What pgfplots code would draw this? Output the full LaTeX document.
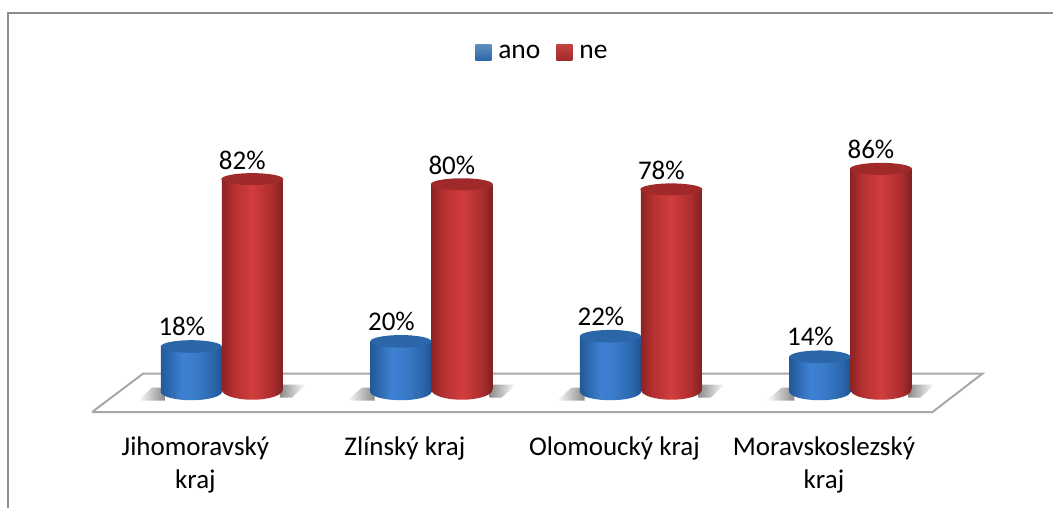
\documentclass[border=0pt]{standalone}
\usepackage{fontspec}
\setmainfont{Carlito}
\usepackage{pgfplots}
\pgfplotsset{compat=1.18}
\definecolor{framegray}{HTML}{8C8C8C}
\definecolor{floorgray}{HTML}{A8A8A8}
\definecolor{bluecap}{HTML}{2A66A8}
\definecolor{redcap}{HTML}{A02A2A}
\definecolor{shadowgray}{HTML}{8A8A8A}
\pgfdeclarehorizontalshading{bluecyl}{100bp}{
  rgb(0bp)=(.13,.35,.60);rgb(25bp)=(.13,.35,.60);rgb(42bp)=(.24,.50,.82);rgb(52bp)=(.23,.49,.80);rgb(68bp)=(.17,.40,.68);rgb(75bp)=(.12,.33,.58);rgb(100bp)=(.12,.33,.58)}
\pgfdeclarehorizontalshading{redcyl}{100bp}{
  rgb(0bp)=(.55,.14,.14);rgb(25bp)=(.55,.14,.14);rgb(35bp)=(.72,.19,.19);rgb(50bp)=(.82,.24,.24);rgb(66bp)=(.68,.18,.18);rgb(75bp)=(.50,.13,.13);rgb(100bp)=(.50,.13,.13)}
\pgfdeclareplotmark{bluebase}{\path[draw=none,shading=bluecyl,rotate=4] (0pt,0pt) ellipse (30.5pt and 8.5pt);}
\pgfdeclareplotmark{redbase}{\path[draw=none,shading=redcyl,rotate=5] (0pt,0pt) ellipse (30.5pt and 10pt);}
\pgfdeclareplotmark{bluetop}{\path[draw=none,fill=bluecap,rotate=6] (0pt,0pt) ellipse (30.5pt and 6.3pt);}
\pgfdeclareplotmark{redtop}{\path[draw=none,fill=redcap,rotate=6] (0pt,0pt) ellipse (31pt and 6pt);}
\pgfplotstableread{
x ano ne zero
0 18 82 0
1 20 80 0
2 22 78 0
3 14 86 0
}\data
\pgfplotsset{
  bluebar/.style={forget plot,draw=none,bar shift=-30.5pt,shading=bluecyl,yshift=-3pt},
  redbar/.style={forget plot,draw=none,bar shift=30.5pt,shading=redcyl},
}
\begin{document}
\begin{tikzpicture}
% page-level decoration, in image pixel coordinates
\begin{axis}[at={(0pt,0pt)},anchor=south west,scale only axis,width=1054pt,height=508pt,
  xmin=0,xmax=1054,ymin=0,ymax=508,y dir=reverse,hide axis,clip=false]
\addplot[white,draw=none,forget plot] coordinates {(0,0)(1054,508)};
\addplot[framegray,line width=1.6pt] coordinates {(8,508)(8,13)(1054,13)};
\addplot[floorgray,line width=2pt,fill=white] coordinates {(92,412.5)(933,412.5)(983,374)(143,374)(92,412.5)};
% soft shadows on the floor
\addplot[draw=none,left color=white,right color=shadowgray] coordinates {(138,401)(165,401)(165,388)(152,388)};
\addplot[draw=none,right color=white,left color=shadowgray] coordinates {(280,398)(292,398)(306,385)(280,385)};
\addplot[draw=none,left color=white,right color=shadowgray] coordinates {(347,401)(375,401)(375,388)(362,388)};
\addplot[draw=none,right color=white,left color=shadowgray] coordinates {(490,398)(502,398)(516,385)(490,385)};
\addplot[draw=none,left color=white,right color=shadowgray] coordinates {(557,401)(585,401)(585,388)(572,388)};
\addplot[draw=none,right color=white,left color=shadowgray] coordinates {(699,398)(711,398)(725,385)(699,385)};
\addplot[draw=none,left color=white,right color=shadowgray] coordinates {(767,401)(795,401)(795,388)(782,388)};
\addplot[draw=none,right color=white,left color=shadowgray] coordinates {(909,398)(921,398)(935,385)(909,385)};
\end{axis}
\begin{axis}[at={(0pt,0pt)},anchor=south west,scale only axis,width=1054pt,height=508pt,
  xmin=-1.0587,xmax=3.968,ymin=-45.9,ymax=151.75,
  axis line style={draw=none},tick style={draw=none},
  axis x line*=bottom,axis y line=none,
  xtick={0,1,2,3},
  xticklabels={{Jihomoravský\\kraj},{Zlínský kraj},{Olomoucký kraj},{Moravskoslezský\\kraj}},
  x tick label style={font=\fontsize{27}{32.5}\selectfont,align=center,anchor=north,xshift=-26.5pt,yshift=75pt,inner sep=0pt},
  bar width=61pt,ybar,
  /pgf/number format/assume math mode=true,
  legend style={at={(0.515,0.896)},anchor=center,draw=none,fill=none,legend columns=2,font=\fontsize{27.5}{30}\selectfont,
    /tikz/every even column/.append style={column sep=14pt},inner sep=0pt},
  clip=false]
% blue cylinders
\addplot[forget plot,only marks,mark=bluebase,mark options={xshift=-30.5pt,yshift=-2pt}] table[x=x,y=zero]{\data};
\addplot[bluebar] coordinates {(0,18)};
\addplot[bluebar] coordinates {(1,20)};
\addplot[bluebar] coordinates {(2,22)};
\addplot[bluebar] coordinates {(3,14)};
\addplot[forget plot,only marks,mark=bluetop,mark options={xshift=-30.5pt,yshift=-3pt}] table[x=x,y=ano]{\data};
% red cylinders
\addplot[forget plot,only marks,mark=redbase,mark options={xshift=30.5pt}] table[x=x,y=zero]{\data};
\addplot[redbar] coordinates {(0,82)};
\addplot[redbar] coordinates {(1,80)};
\addplot[redbar] coordinates {(2,78)};
\addplot[redbar] coordinates {(3,86)};
\addplot[forget plot,only marks,mark=redtop,mark options={xshift=30.5pt}] table[x=x,y=ne]{\data};
% value labels
\addplot[forget plot,draw=none,bar shift=-30.5pt,fill=none,
  nodes near coords={\pgfmathprintnumber{\pgfplotspointmeta}\%},
  every node near coord/.append style={font=\fontsize{27}{30}\selectfont,anchor=center,xshift=-9.5pt,yshift=17pt,text=black}] table[x=x,y=ano]{\data};
\addplot[forget plot,draw=none,bar shift=30.5pt,fill=none,
  nodes near coords={\pgfmathprintnumber{\pgfplotspointmeta}\%},
  every node near coord/.append style={font=\fontsize{27}{30}\selectfont,anchor=center,xshift=-10pt,yshift=19pt,text=black}] table[x=x,y=ne]{\data};
\addlegendimage{legend image code/.code={\path[draw=none,top color=bluecap!75!white,bottom color=bluecap] (0pt,-8pt) rectangle (16pt,8pt);}}
\addlegendentry{\hspace*{5pt}ano}
\addlegendimage{legend image code/.code={\path[draw=none,top color=redcap!75!red!85!white,bottom color=redcap] (0pt,-8pt) rectangle (16pt,8pt);}}
\addlegendentry{\hspace*{5pt}ne}
\end{axis}
\end{tikzpicture}
\end{document}
